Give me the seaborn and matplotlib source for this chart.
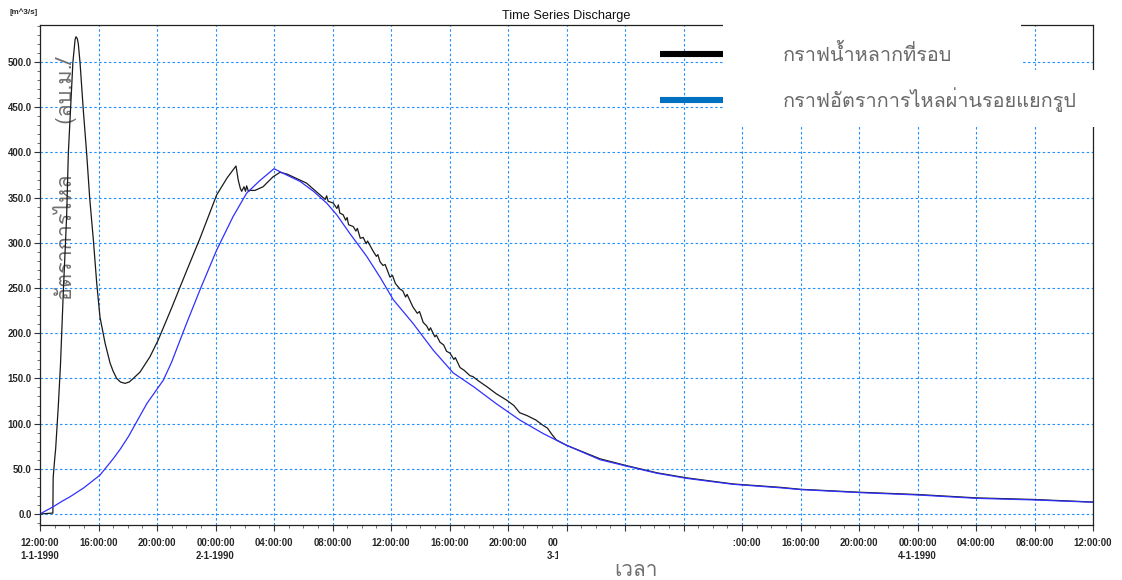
import numpy as np
import pandas as pd
import matplotlib
matplotlib.use("Agg")
import matplotlib.pyplot as plt
import seaborn as sns
from matplotlib import font_manager
from matplotlib.ft2font import FT2Font
from matplotlib.lines import Line2D
from matplotlib.patches import Rectangle
from matplotlib.ticker import MultipleLocator, FixedLocator, FixedFormatter, FormatStrFormatter

# ---------------- data ----------------
obs_hours = [0, 0.5, 0.88, 0.9, 1.0, 1.07, 1.25, 1.4, 1.6, 1.82, 1.94, 2.1, 2.25, 2.4, 2.46, 2.55, 2.62,
             2.74, 2.96, 3.19, 3.4, 3.65, 3.88, 4.1, 4.45, 4.79, 5.0, 5.24, 5.5, 5.81, 6.1, 6.38, 6.84,
             7.52, 8.07, 9.0, 10.0, 10.94, 12.08, 12.8, 13.4, 13.56, 13.7, 13.79, 13.95, 14.05, 14.13,
             14.25, 14.36, 14.7, 15.25, 15.93, 16.41, 16.9, 17.3, 18.23, 19.15, 19.5, 19.6, 19.7, 20.05,
             20.3, 20.4, 20.5, 20.73, 20.9, 21.0, 21.1, 21.42, 21.6, 21.7, 21.9, 22.1, 22.3, 22.4, 22.77,
             23.0, 23.1, 23.25, 23.45, 23.6, 23.93, 24.1, 24.3, 24.6, 24.8, 25.0, 25.1, 25.5, 25.8, 25.95,
             26.2, 26.44, 26.6, 26.7, 27.0, 27.1, 27.35, 27.6, 27.8, 28.03, 28.3, 28.4, 28.72, 29.0, 29.4,
             29.6, 30.0, 30.54, 31.2, 31.9, 32.4, 32.8, 33.28, 33.9, 34.4, 34.7, 35.0, 35.3, 36.0, 38.3,
             40.1, 42.2, 44.2, 47.4, 50.6, 52.0, 56.1, 60.05, 64.05, 68.03, 72.0]
obs_q = [0, 0.5, 1, 40, 60, 72, 119, 165, 248, 329, 400, 452, 500, 525, 528, 526, 520,
         499, 447, 399, 349, 303, 255, 218, 189, 167, 158, 150, 146, 144.5, 146, 150, 157,
         174, 192, 228, 268, 305, 353, 372, 385, 369, 360, 357, 362, 357, 363,
         357, 358, 358, 362, 373, 378, 376, 373, 366, 353, 348, 352, 346, 344,
         338, 342, 333, 331, 325, 328, 320, 318, 313, 316, 305, 306, 299, 302, 291,
         285, 287, 279, 275, 276, 262, 264, 255, 249, 247, 240, 243, 229, 222, 224,
         212, 208, 203, 206, 196, 198, 190, 187, 180, 178, 171, 173, 162, 159, 153,
         152, 147, 141, 133, 126, 120, 112, 109, 104, 98, 95, 88, 82, 76, 61,
         53.5, 45.5, 40, 33.2, 29.5, 27.3, 24, 21.5, 17.8, 16, 13.2]

sim_hours = [0, 0.9, 1.5, 2.05, 3.0, 4.1, 4.5, 5.0, 5.5, 6.04, 7.3, 8.43, 9.0, 9.57, 10.0, 10.94, 12.08,
             13.2, 14.13, 15.04, 16.0, 16.87, 17.78, 18.7, 19.6, 20.29, 21.2, 22.34, 23.25, 24.16, 25.5,
             26.9, 28.26, 29.63, 31.2, 32.8, 34.4, 36.0, 38.3, 40.1, 42.2, 44.2, 47.4, 50.6, 52.0, 56.1,
             60.05, 64.05, 68.03, 72.0]
sim_q = [0, 8, 14, 19, 29, 43, 51, 61, 72, 85.5, 122, 148, 168, 192, 210, 248, 292,
         329, 355, 369, 382, 375, 368, 357, 344, 331, 310, 285, 262, 237, 211,
         181, 156, 141, 122, 104, 89, 76, 60, 53, 45, 39.4, 32.8, 29, 27, 23.6,
         21, 17.3, 15.5, 13]

series_names = ["กราฟน้ำหลากที่รอบ", "กราฟอัตราการไหลผ่านรอยแยกรูป"]
tick_hours = list(range(0, 73, 4))
tick_labels = ["12:00:00\n1-1-1990", "16:00:00", "20:00:00", "00:00:00\n2-1-1990", "04:00:00",
               "08:00:00", "12:00:00", "16:00:00", "20:00:00", "00:00:00\n3-1-1990", "04:00:00",
               "08:00:00", "12:00:00", "16:00:00", "20:00:00", "00:00:00\n4-1-1990", "04:00:00",
               "08:00:00", "12:00:00"]
y_label = "อัตราการไหล       (ลบ.ม./"
x_label = "เวลา"
title = "Time Series Discharge"
unit_label = "[m^3/s]"

# ---------------- fonts ----------------
thai_family = None
for f in font_manager.fontManager.ttflist:
    try:
        cm = FT2Font(f.fname).get_charmap()
    except Exception:
        continue
    if 0x0E01 in cm and 0x0E44 in cm and 0x0E49 in cm:
        thai_family = f.name
        break

sns.set_theme(style="white")
plt.rcParams["font.family"] = ["Liberation Sans", "DejaVu Sans"]
thai_fam = [thai_family, "DejaVu Sans"] if thai_family else ["DejaVu Sans"]

df = pd.concat([
    pd.DataFrame({"hour": obs_hours, "q": obs_q, "series": series_names[0]}),
    pd.DataFrame({"hour": sim_hours, "q": sim_q, "series": series_names[1]}),
])

W, H = 1122, 580
fig = plt.figure(figsize=(W / 100, H / 100), dpi=100)
ax = fig.add_axes([40 / W, 1 - 525 / H, (1093 - 40) / W, (525 - 25) / H])

sns.lineplot(data=df, x="hour", y="q", hue="series", sort=False,
             palette={series_names[0]: "#1a1a1a", series_names[1]: "#3030ff"},
             linewidth=0.9, legend=False, ax=ax, estimator=None)

ax.set_xlim(0, 72)
ax.xaxis.set_major_locator(FixedLocator(tick_hours))
ax.xaxis.set_major_formatter(FixedFormatter(tick_labels))
ax.xaxis.set_minor_locator(MultipleLocator(1))
ax.yaxis.set_major_locator(MultipleLocator(50))
ax.yaxis.set_minor_locator(MultipleLocator(10))
ax.yaxis.set_major_formatter(FormatStrFormatter("%.1f"))
ax.set_ylim(-12.2, 541)

ax.grid(True, which="major", color="#1f8fff", linestyle=(0, (2.2, 2.2)), linewidth=0.8)
for sp in ax.spines.values():
    sp.set_color("#222222")
    sp.set_linewidth(0.9)
ax.tick_params(axis="both", which="major", direction="out", length=4, width=0.8, color="#333333",
               labelsize=6.9, pad=2, bottom=True, left=True)
ax.tick_params(axis="both", which="minor", direction="out", length=2.5, width=0.6, color="#555555",
               bottom=True, left=True)
ax.tick_params(axis="x", which="major", pad=5)
for lab in ax.get_xticklabels() + ax.get_yticklabels():
    lab.set_fontweight("bold")
    lab.set_linespacing(1.45)

ax.set_xlabel("")
ax.set_ylabel(y_label, family=thai_fam, fontsize=15.5, color="#707070")
ax.yaxis.set_label_coords((65 - 40) / (1093 - 40), (525 - 300) / 500)
ax.yaxis.label.set_ha("left")
ax.yaxis.label.set_va("center")

ax.set_title(title, fontsize=9.2, pad=4, color="#111111")
fig.text(10 / W, 1 - 12 / H, unit_label, fontsize=5.8, fontweight="bold", va="center", ha="left")

# white text boxes covering parts of the chart
for (x0, y0, x1, y1) in [(723, 18, 1021, 72), (723, 70, 1110, 127), (558, 532, 733, 580)]:
    fig.add_artist(Rectangle((x0 / W, 1 - y1 / H), (x1 - x0) / W, (y1 - y0) / H,
                             transform=fig.transFigure, facecolor="white", edgecolor="none", zorder=3))

fig.text(636 / W, 1 - 570 / H, x_label, family=thai_fam, fontsize=15, color="#707070",
         ha="center", va="center", zorder=4)

fs = 14.3
px = fs * 100 / 72
handles = [Line2D([], [], color="black", linewidth=4.4, solid_capstyle="butt"),
           Line2D([], [], color="#0070c0", linewidth=4.4, solid_capstyle="butt")]
fig.legend(handles, series_names, loc="upper left", bbox_to_anchor=(660 / W, 1 - 44 / H),
           frameon=False, prop={"family": thai_fam, "size": fs}, labelcolor="#6a6a6a",
           handlelength=63 / px, handletextpad=60 / px,
           labelspacing=1.1, borderpad=0, borderaxespad=0)

fig.savefig("out.png", dpi=100)
